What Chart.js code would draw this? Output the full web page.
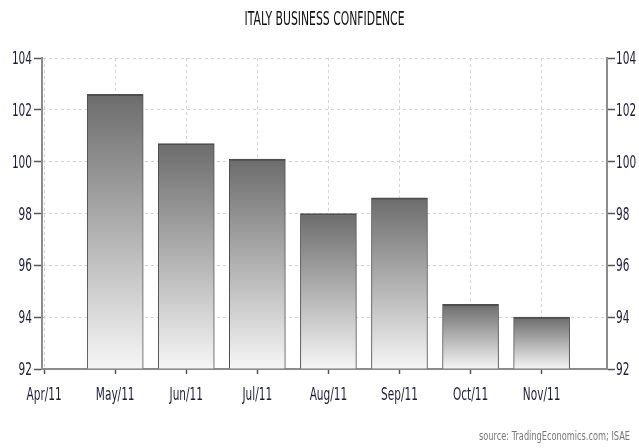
<!DOCTYPE html>
<html lang="en">
<head>
    <meta charset="UTF-8">
    <title>Italy Business Confidence</title>
    <script src="https://cdn.jsdelivr.net/npm/chart.js"></script>
    <style>
        body {
            margin: 0;
            padding: 0;
            background: #ffffff;
        }
        .chart-wrapper {
            position: relative;
            width: 639px;
            height: 448px;
        }
    </style>
</head>
<body>
<div class="chart-wrapper">
    <canvas id="confChart"></canvas>
</div>

<script>
    // months on the axis (Apr/11 has no bar)
    const months = ['Apr/11', 'May/11', 'Jun/11', 'Jul/11', 'Aug/11', 'Sep/11', 'Oct/11', 'Nov/11'];
    // ISAE business confidence index
    const barMonths = [1, 2, 3, 4, 5, 6, 7];
    const confidence = [102.6, 100.7, 100.1, 98.0, 98.6, 94.5, 94.0];
    const yTicks = [92, 94, 96, 98, 100, 102, 104];

    const chartTitle = 'ITALY BUSINESS CONFIDENCE';
    const sourceText = 'source: TradingEconomics.com; ISAE';

    const FONT = "'DejaVu Sans', 'Liberation Sans', sans-serif";
    const labelColor = '#1c1c3c';
    const NARROW = 0.62;   // horizontal squeeze for the condensed look

    // each bar gets its own dark-to-light gradient, top to bottom
    function barGradient(ctx) {
        const chart = ctx.chart;
        if (!chart.chartArea || ctx.type !== 'data') return '#999999';
        const yScale = chart.scales.y;
        const top = yScale.getPixelForValue(ctx.raw.y);
        const bottom = yScale.getPixelForValue(yScale.min);
        const g = chart.ctx.createLinearGradient(0, top, 0, bottom);
        g.addColorStop(0, '#6c6c6c');
        g.addColorStop(1, '#f6f6f6');
        return g;
    }

    // text squeezed horizontally around its anchor point
    function narrowText(c, text, x, y, align, sx) {
        c.save();
        c.translate(x, y);
        c.scale(sx, 1);
        c.textAlign = align;
        c.textBaseline = 'alphabetic';
        c.fillText(text, 0, 0);
        c.restore();
    }

    // same, but squeezed to a given width
    function fitText(c, text, x, y, align, width) {
        narrowText(c, text, x, y, align, width / c.measureText(text).width);
    }

    const narrowLabels = {
        id: 'narrowLabels',
        afterDraw(chart) {
            const c = chart.ctx;
            const { x, y, y2 } = chart.scales;
            const area = chart.chartArea;
            c.save();

            c.fillStyle = '#111111';
            c.font = '19px ' + FONT;
            fitText(c, chartTitle, (area.left + area.right) / 2, 24.5, 'center', 160);

            c.fillStyle = labelColor;
            c.font = '17px ' + FONT;
            x.ticks.forEach(t => {
                narrowText(c, months[t.value], x.getPixelForValue(t.value), x.top + 31, 'center', NARROW);
            });
            y.ticks.forEach(t => {
                narrowText(c, String(t.value), y.right - 10, y.getPixelForValue(t.value) + 6, 'right', NARROW);
            });
            y2.ticks.forEach(t => {
                narrowText(c, String(t.value), y2.left + 9, y2.getPixelForValue(t.value) + 6, 'left', NARROW);
            });

            c.fillStyle = '#777777';
            c.font = '12px ' + FONT;
            fitText(c, sourceText, 630, 440, 'right', 151);

            c.restore();
        }
    };

    const points = barMonths.map((m, i) => ({ x: m, y: confidence[i] }));

    const ctx = document.getElementById('confChart').getContext('2d');
    new Chart(ctx, {
        type: 'bar',
        data: {
            datasets: [{
                data: points,
                backgroundColor: barGradient,
                borderColor: '#4e4e4e',
                borderWidth: { top: 2, left: 1, right: 1, bottom: 0 },
                borderSkipped: false,
                barThickness: 56,
                base: 92
            }]
        },
        options: {
            responsive: true,
            maintainAspectRatio: false,
            animation: false,
            layout: { padding: { top: 58, bottom: 17, left: 0, right: 0 } },
            plugins: {
                legend: { display: false },
                tooltip: { enabled: false },
                title: { display: false }
            },
            scales: {
                x: {
                    type: 'linear',
                    min: -0.03,
                    max: 7.92,
                    offset: false,
                    afterBuildTicks: scale => { scale.ticks = months.map((_, i) => ({ value: i })); },
                    afterFit: scale => { scale.height = 62; },
                    ticks: { display: false },
                    grid: {
                        offset: false,
                        color: '#d4d4d4',
                        tickColor: '#555555',
                        tickLength: 5,
                        tickBorderDash: [],
                        tickWidth: 1.5
                    },
                    border: { color: '#8c8c8c', width: 2, dash: [3, 3] }
                },
                y: {
                    position: 'left',
                    min: 92,
                    max: 104,
                    afterBuildTicks: scale => { scale.ticks = yTicks.map(v => ({ value: v })); },
                    afterFit: scale => { scale.width = 42; },
                    ticks: { display: false },
                    grid: {
                        color: '#d4d4d4',
                        tickColor: '#555555',
                        tickLength: 8,
                        tickBorderDash: [],
                        tickWidth: 1.5
                    },
                    border: { color: '#8c8c8c', width: 2, dash: [3, 3] }
                },
                y2: {
                    position: 'right',
                    min: 92,
                    max: 104,
                    afterBuildTicks: scale => { scale.ticks = yTicks.map(v => ({ value: v })); },
                    afterFit: scale => { scale.width = 32; },
                    ticks: { display: false },
                    grid: {
                        drawOnChartArea: false,
                        color: '#555555',
                        tickLength: 8,
                        tickWidth: 1.5
                    },
                    border: { color: '#8c8c8c', width: 2 }
                }
            }
        },
        plugins: [narrowLabels]
    });
</script>
</body>
</html>
